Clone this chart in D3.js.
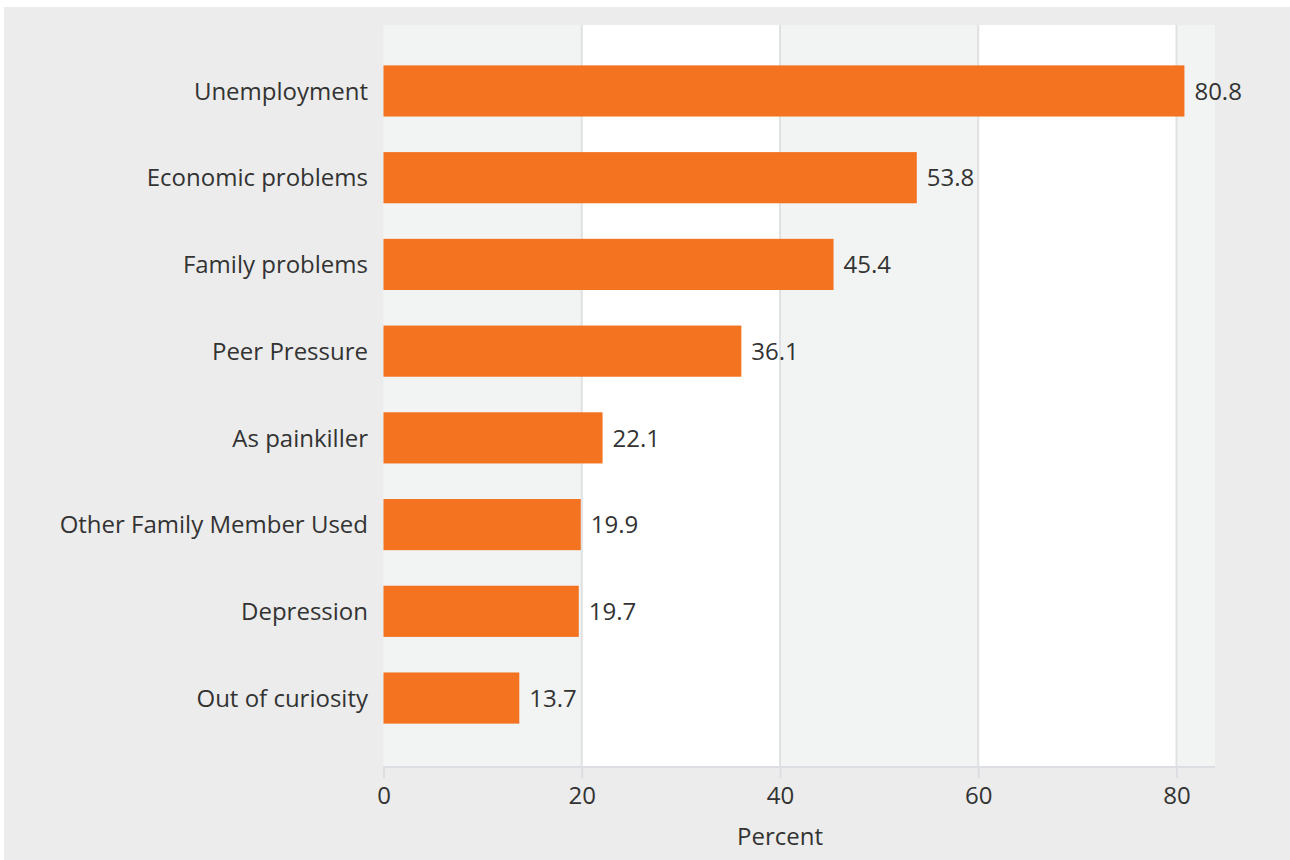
<!DOCTYPE html>
<html><head><meta charset="utf-8">
<script src="https://cdn.jsdelivr.net/npm/d3@7"></script>
<style>
html,body{margin:0;padding:0;background:#fff;}
text{font-family:"Open Sans",sans-serif;}
</style></head>
<body><svg id="c" width="1290" height="860"></svg>
<script>
const categories = ["Unemployment","Economic problems","Family problems","Peer Pressure","As painkiller","Other Family Member Used","Depression","Out of curiosity"];
const values = [80.8,53.8,45.4,36.1,22.1,19.9,19.7,13.7];
const xTicks = [0,20,40,60,80];
const xTitle = "Percent";

const FS = 24;
const svg = d3.select("#c");
svg.append("rect").attr("x",4).attr("y",7).attr("width",1286).attr("height",853).attr("fill","#ececec");

const panel = {left:383.5, right:1215, top:25, bottom:767};
const x = d3.scaleLinear().domain([0,80]).range([383.5,1176.5]);
const y = d3.scaleBand().domain(categories).range([47.6,741.4]).paddingInner(0.41).paddingOuter(0.205);

// bands
const xmax = x.invert(panel.right);
const bandEdges = [0,20,40,60,80,xmax];
for(let i=0;i<bandEdges.length-1;i++){
  svg.append("rect").attr("x",x(bandEdges[i])).attr("y",panel.top)
    .attr("width",x(bandEdges[i+1])-x(bandEdges[i])).attr("height",panel.bottom-panel.top)
    .attr("fill", i%2===0 ? "#f2f3f3" : "#ffffff");
}
// grid lines
svg.selectAll(".grid").data(xTicks.slice(1)).enter().append("line")
  .attr("x1",d=>x(d)).attr("x2",d=>x(d)).attr("y1",panel.top).attr("y2",panel.bottom)
  .attr("stroke","#e0e1e3").attr("stroke-width",2);

// axis
const axisG = svg.append("g").attr("transform",`translate(0,${panel.bottom})`);
axisG.append("line").attr("x1",panel.left).attr("x2",panel.right).attr("y1",0).attr("y2",0)
  .attr("stroke","#dcdee2").attr("stroke-width",2);
const ax = d3.axisBottom(x).tickValues(xTicks).tickSize(11).tickPadding(9).tickFormat(d3.format("d"));
axisG.call(ax);
axisG.select(".domain").remove();
axisG.selectAll(".tick line").attr("stroke","#dcdee2").attr("stroke-width",2);
axisG.selectAll(".tick text").attr("font-size",FS).attr("fill","#333").attr("font-family","Open Sans, sans-serif");

svg.append("text").attr("x",(x(0)+x(80))/2).attr("y",845).attr("text-anchor","middle")
  .attr("font-size",FS).attr("fill","#333").text(xTitle);

// bars
svg.selectAll(".bar").data(values).enter().append("rect")
  .attr("x",x(0)).attr("y",(d,i)=>y(categories[i]))
  .attr("width",d=>x(d)-x(0)).attr("height",y.bandwidth())
  .attr("fill","#f37321");

// value labels
svg.selectAll(".val").data(values).enter().append("text")
  .attr("x",d=>x(d)+10).attr("y",(d,i)=>y(categories[i])+y.bandwidth()/2)
  .attr("dy","0.36em").attr("font-size",FS).attr("fill","#333").text(d=>d.toFixed(1));

// category labels
svg.selectAll(".cat").data(categories).enter().append("text")
  .attr("x",368).attr("y",d=>y(d)+y.bandwidth()/2).attr("dy","0.36em")
  .attr("text-anchor","end").attr("font-size",FS).attr("fill","#333").text(d=>d);
</script></body></html>
